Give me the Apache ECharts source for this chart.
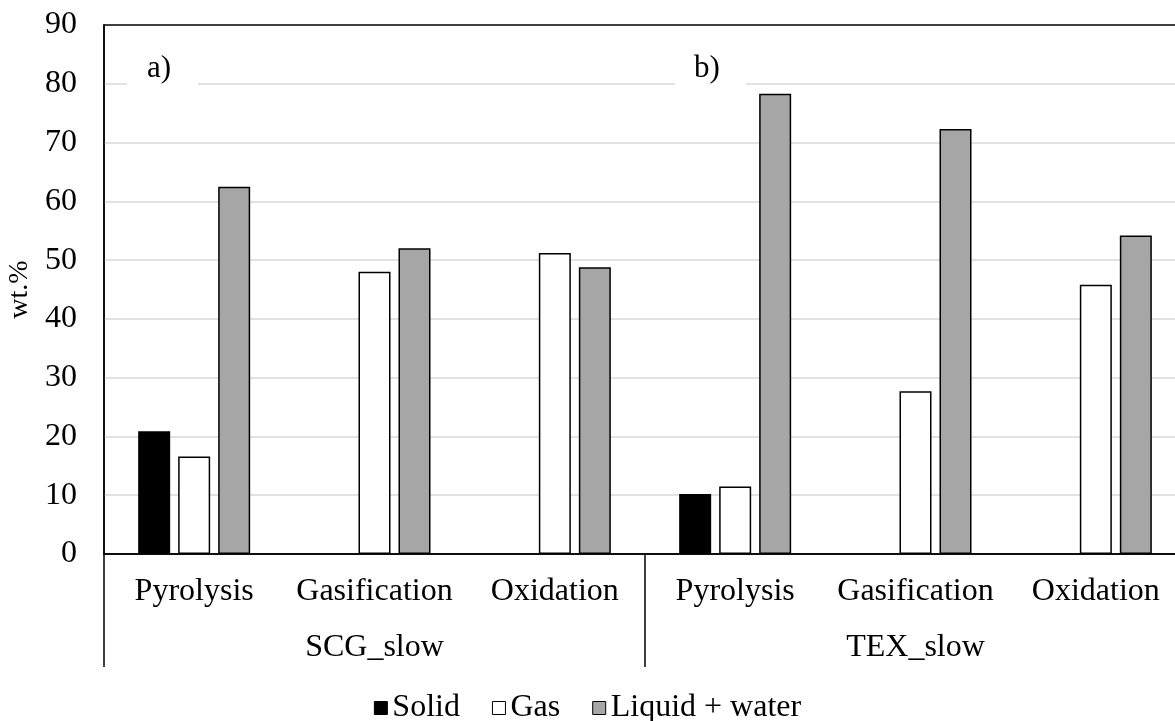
<!DOCTYPE html>
<html>
<head>
<meta charset="utf-8">
<script src="https://cdn.jsdelivr.net/npm/echarts@6/dist/echarts.min.js"></script>
<style>
  html, body { margin: 0; padding: 0; background: #fff; }
  #chart { width: 1175px; height: 721px; }
</style>
</head>
<body>
<div id="chart"></div>
<script>
// Product yields by process step, two feedstocks
const processes = ['Pyrolysis', 'Gasification', 'Oxidation', 'Pyrolysis', 'Gasification', 'Oxidation'];
const feedstocks = ['SCG_slow', 'TEX_slow'];
const yTicks = [0, 10, 20, 30, 40, 50, 60, 70, 80, 90];

const solid  = [20.9, null, null, 10.2, null, null];
const gas    = [16.6, 48.0, 51.2, 11.5, 27.7, 45.8];
const liquid = [62.5, 52.0, 48.8, 78.3, 72.3, 54.2];

const FONT = 'Liberation Serif';
const FS = 32;
const chart = echarts.init(document.getElementById('chart'));

function bar(name, values, fill) {
  return {
    name: name,
    type: 'bar',
    data: values,
    barWidth: 32,
    barGap: '25%',
    itemStyle: { color: fill, borderColor: '#000', borderWidth: 1.5 },
    emphasis: { disabled: true }
  };
}

function panelTag(text, x0, x1, tx) {
  return [
    { type: 'rect', shape: { x: x0, y: 52, width: x1 - x0, height: 40 },
      style: { fill: '#fff' }, z: 10 },
    { type: 'text', x: tx, y: 69, z: 11,
      style: { text: text, font: '31px "' + FONT + '"', fill: '#000',
               verticalAlign: 'middle', align: 'left' } }
  ];
}

chart.setOption({
  animation: false,
  backgroundColor: '#fff',
  textStyle: { fontFamily: FONT, color: '#000' },
  grid: {
    left: 104, top: 25, width: 1082, height: 529,
    outerBoundsMode: 'none',
    containLabel: false,
    show: true, borderColor: '#000', borderWidth: 1.5, backgroundColor: 'transparent'
  },
  legend: {
    top: 687,
    left: 'center',
    itemWidth: 13,
    itemHeight: 13,
    itemGap: 32,
    icon: 'rect',
    itemStyle: { borderColor: '#000', borderWidth: 1 },
    textStyle: { fontFamily: FONT, fontSize: FS, color: '#000' },
    data: ['Solid', 'Gas', 'Liquid + water']
  },
  xAxis: [
    {
      type: 'category',
      data: processes,
      axisLine: { lineStyle: { color: '#000', width: 1.5 } },
      axisTick: { show: false },
      axisLabel: { fontFamily: FONT, fontSize: FS, color: '#000', margin: 22, interval: 0 },
      splitLine: { show: false }
    },
    {
      type: 'category',
      data: feedstocks,
      position: 'bottom',
      axisLine: { show: false },
      axisTick: { show: true, length: 113, interval: 0, lineStyle: { color: '#000', width: 1.5 } },
      axisLabel: { fontFamily: FONT, fontSize: FS, color: '#000', margin: 78, interval: 0 },
      splitLine: { show: false }
    }
  ],
  yAxis: {
    type: 'value',
    min: yTicks[0],
    max: yTicks[yTicks.length - 1],
    interval: 10,
    name: 'wt.%',
    nameLocation: 'middle',
    nameRotate: 90,
    nameGap: 70,
    nameTextStyle: { fontFamily: FONT, fontSize: 28, color: '#000' },
    axisLine: { show: true, lineStyle: { color: '#000', width: 1.5 } },
    axisTick: { show: false },
    axisLabel: { fontFamily: FONT, fontSize: FS, color: '#000', margin: 27 },
    splitLine: { showMinLine: false, showMaxLine: false, lineStyle: { color: '#d9d9d9', width: 1.5 } }
  },
  series: [
    bar('Solid', solid, '#000'),
    bar('Gas', gas, '#fff'),
    bar('Liquid + water', liquid, '#a6a6a6')
  ],
  graphic: [].concat(
    panelTag('a)', 127, 198, 147),
    panelTag('b)', 675, 746, 694)
  )
});
</script>
</body>
</html>
